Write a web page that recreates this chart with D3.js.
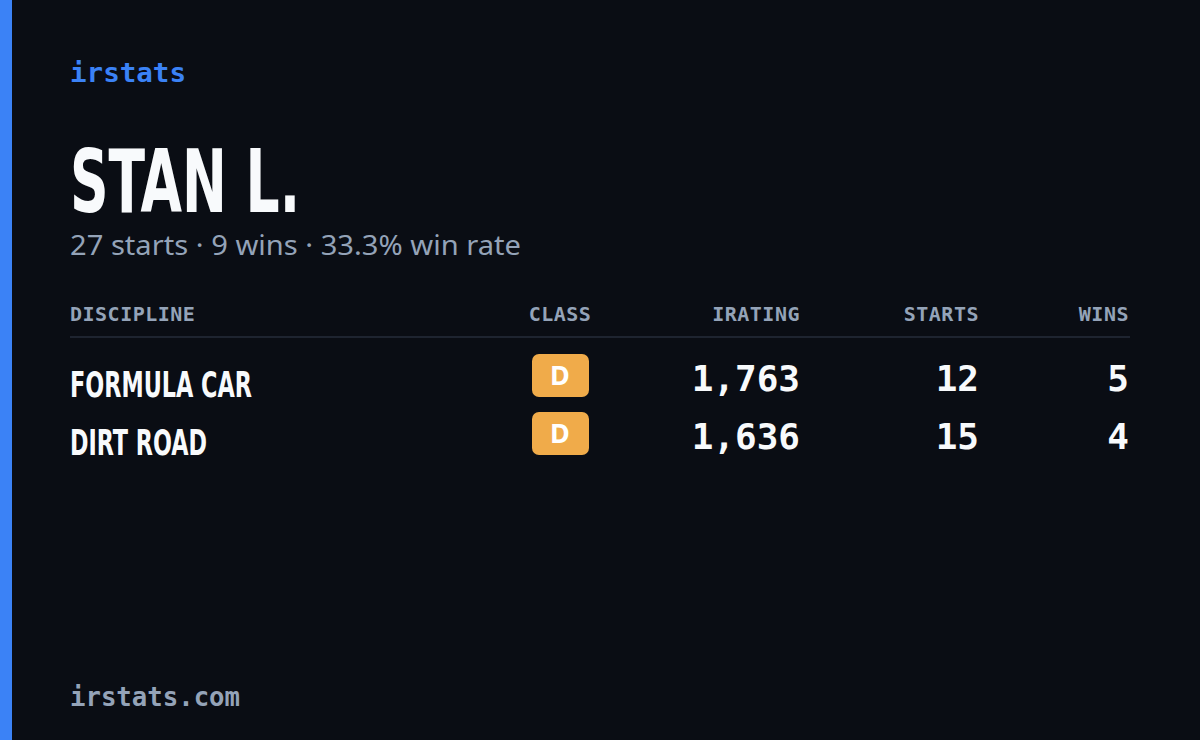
<!DOCTYPE html>
<html><head><meta charset="utf-8">
<script src="https://cdn.jsdelivr.net/npm/d3@7"></script>
<style>body{margin:0;background:#0a0d14}</style>
</head><body>
<script>
// data
const disciplines = ["FORMULA CAR", "DIRT ROAD"];
const classes = ["D", "D"];
const iratings = [1763, 1636];
const starts = [12, 15];
const wins = [5, 4];
const columns = ["DISCIPLINE", "CLASS", "IRATING", "STARTS", "WINS"];

const width = 1200, height = 740;
const mono = "'DejaVu Sans Mono', monospace";
const cond = "'Liberation Sans Narrow', 'DejaVu Sans Condensed', sans-serif";
const grey = "#94a3b8";

const svg = d3.select("body").append("svg").attr("width", width).attr("height", height);
svg.append("rect").attr("width", width).attr("height", height).attr("fill", "#0a0d14");
svg.append("rect").attr("width", 12).attr("height", height).attr("fill", "#3b82f6");

svg.append("text").attr("x", 70).attr("y", 82).text("irstats")
  .attr("font-family", mono).attr("font-weight", "bold").attr("font-size", 26)
  .attr("textLength", 116).attr("lengthAdjust", "spacingAndGlyphs").attr("fill", "#3b82f6");

svg.append("text").attr("x", 70).attr("y", 212).text("STAN L.")
  .attr("font-family", cond).attr("font-weight", "bold").attr("font-size", 88)
  .attr("textLength", 230).attr("lengthAdjust", "spacingAndGlyphs").attr("fill", "#f8fafc");

const totalStarts = d3.sum(starts), totalWins = d3.sum(wins);
svg.append("text").attr("x", 70).attr("y", 255)
  .text(`${totalStarts} starts · ${totalWins} wins · ${(100 * totalWins / totalStarts).toFixed(1)}% win rate`)
  .attr("font-family", "'Noto Sans', sans-serif").attr("font-size", 28).attr("fill", grey)
  .attr("textLength", 451).attr("lengthAdjust", "spacingAndGlyphs");

// columns: [x, anchor]
const colX = [70, 560, 800, 979, 1129];
const anchors = ["start", "middle", "end", "end", "end"];
svg.selectAll("text.hdr").data(columns).enter().append("text").attr("class", "hdr")
  .attr("x", (d, i) => colX[i]).attr("y", 321).attr("text-anchor", (d, i) => anchors[i])
  .attr("font-family", mono).attr("font-weight", "bold").attr("font-size", 20)
  .attr("letter-spacing", 0.5).attr("fill", grey).text(d => d);
svg.append("line").attr("x1", 70).attr("x2", 1130).attr("y1", 337).attr("y2", 337)
  .attr("stroke", "#1e2430").attr("stroke-width", 2);

const y = d3.scaleBand().domain(d3.range(disciplines.length)).range([346, 462]);
const fmt = d3.format(",");
const discLen = [182, 137];

disciplines.forEach((d, i) => {
  svg.append("text").attr("x", 70).attr("y", y(i) + 51).text(d)
    .attr("font-family", cond).attr("font-weight", "bold").attr("font-size", 36)
    .attr("textLength", discLen[i]).attr("lengthAdjust", "spacingAndGlyphs").attr("fill", "#f8fafc");
  svg.append("rect").attr("x", 532).attr("y", y(i) + 8).attr("width", 57).attr("height", 43)
    .attr("rx", 7).attr("fill", "#f0ab4a");
  svg.append("text").attr("x", 560).attr("y", y(i) + 39).attr("text-anchor", "middle").text(classes[i])
    .attr("font-family", "'Noto Sans', sans-serif").attr("font-weight", "bold").attr("font-size", 27).attr("fill", "#fff");
  [fmt(iratings[i]), starts[i], wins[i]].forEach((v, j) => {
    svg.append("text").attr("x", colX[j + 2]).attr("y", y(i) + 45).attr("text-anchor", "end").text(v)
      .attr("font-family", mono).attr("font-weight", "bold").attr("font-size", 36).attr("fill", "#f8fafc");
  });
});

svg.append("text").attr("x", 70).attr("y", 706).text("irstats.com")
  .attr("font-family", mono).attr("font-weight", "bold").attr("font-size", 26)
  .attr("textLength", 170).attr("lengthAdjust", "spacingAndGlyphs").attr("fill", grey);
</script>
</body></html>
